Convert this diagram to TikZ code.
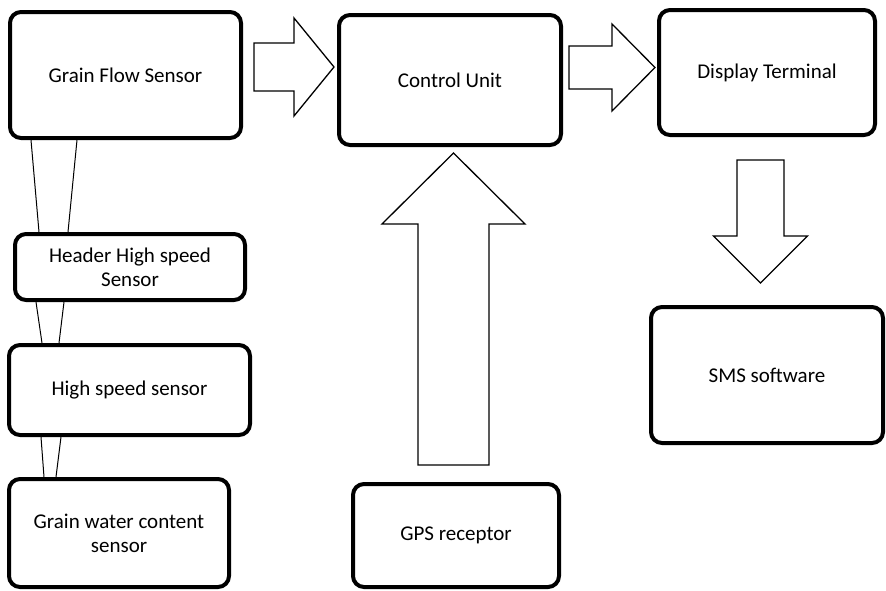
\documentclass[tikz,border=0pt]{standalone}
\usepackage{fontspec}
\setmainfont{Carlito}
\usepackage{tikz}
\usetikzlibrary{calc}

% hollow block arrow: start, tip, shaft half width, head half width, head length
\newcommand{\fatarrow}[5]{%
  \coordinate (#1base) at ($(#2)!#5!(#1)$);
  \draw[fat] ($(#1)!#3!90:(#2)$) -- ($(#1base)!#3!90:(#2)$)
    -- ($(#1base)!#4!90:(#2)$) -- (#2)
    -- ($(#1base)!#4!-90:(#2)$) -- ($(#1base)!#3!-90:(#2)$)
    -- ($(#1)!#3!-90:(#2)$) -- cycle;
}

\begin{document}
\begin{tikzpicture}[
  x=1pt, y=-1pt,
  box/.style={draw, line width=4pt, rounded corners=11pt, inner sep=0pt,
    font=\fontsize{21}{24}\selectfont, align=center},
  link/.style={line width=1pt},
  fat/.style={line width=1.3pt, line join=miter},
]
\useasboundingbox (0,0) rectangle (886,590);

\node[box, minimum width=231pt, minimum height=126pt] (flow) at (125.5,75)
  {Grain Flow Sensor};
\node[box, minimum width=222pt, minimum height=130pt] (ctrl) at (450,80)
  {Control Unit};
\node[box, minimum width=216pt, minimum height=125pt] (disp) at (767,72.5)
  {Display Terminal};
\node[box, minimum width=230pt, minimum height=66pt] (header) at (130,267)
  {Header High speed\\Sensor};
\node[box, minimum width=241pt, minimum height=90pt] (speed) at (129.5,390)
  {High speed sensor};
\node[box, minimum width=220pt, minimum height=108pt] (water) at (119,533)
  {Grain water content\\sensor};
\node[box, minimum width=206pt, minimum height=103pt] (gps) at (456,535.5)
  {GPS receptor};
\node[box, minimum width=232pt, minimum height=136pt] (sms) at (767,375)
  {SMS software};

% tapered links on the left
\draw[link] (flow.south -| 31,0) -- (header.north -| 39,0);
\draw[link] (flow.south -| 77,0) -- (header.north -| 68,0);
\draw[link] (header.south -| 36,0) -- (speed.north -| 42,0);
\draw[link] (header.south -| 64,0) -- (speed.north -| 59,0);
\draw[link] (speed.south -| 41,0) -- (water.north -| 44,0);
\draw[link] (speed.south -| 61,0) -- (water.north -| 56,0);

% block arrows
\coordinate (flowout) at (254,67);
\coordinate (ctrlin) at (334,67);
\coordinate (ctrlout) at (569,67.5);
\coordinate (dispin) at (655,67.5);
\coordinate (dispout) at (760.5,160);
\coordinate (smsin) at (760.5,283);
\coordinate (gpsout) at (453.5,465);
\coordinate (gpsin) at (453.5,153);
\fatarrow{flowout}{ctrlin}{24pt}{49pt}{40pt}
\fatarrow{ctrlout}{dispin}{21.5pt}{43.5pt}{43pt}
\fatarrow{dispout}{smsin}{23.5pt}{47pt}{47pt}
\fatarrow{gpsout}{gpsin}{35.5pt}{71.5pt}{71pt}

\end{tikzpicture}
\end{document}
